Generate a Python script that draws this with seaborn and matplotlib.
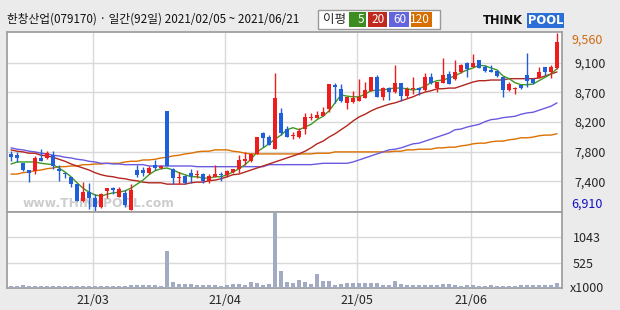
import numpy as np
import pandas as pd
import matplotlib
matplotlib.use("Agg")
import matplotlib.pyplot as plt
import seaborn as sns
from matplotlib.patches import Rectangle

title = "한창산업(079170) · 일간(92일) 2021/02/05 ~ 2021/06/21"

opens = [7760, 7740, 7620, 7520, 7510, 7700, 7700, 7740, 7530, 7470,
         7420, 7310, 7060, 7190, 7100, 6970, 7210, 7250, 7120, 7180,
         6920, 7520, 7520, 7480, 7600, 7550, 8400, 7540, 7400, 7430,
         7480, 7450, 7460, 7360, 7420, 7460, 7450, 7490, 7540, 7660,
         7650, 7760, 8070, 8010, 7830, 8370, 8130, 8020, 8010, 8130,
         8290, 8300, 8330, 8430, 8790, 8730, 8520, 8530, 8550, 8590,
         8700, 8900, 8610, 8740, 8680, 8820, 8620, 8730, 8740, 8710,
         8900, 8740, 8820, 8950, 8880, 8980, 9110, 9050, 9160, 9050,
         9010, 8990, 8900, 8710, 8720, 8790, 8930, 8880, 8890, 9050,
         8980, 9040]
closes = [7710, 7700, 7520, 7480, 7700, 7660, 7770, 7580, 7510, 7460,
          7310, 7060, 7190, 7100, 6970, 7160, 7250, 7220, 7240, 7000,
          7220, 7450, 7480, 7550, 7550, 7580, 7580, 7400, 7420, 7330,
          7430, 7460, 7360, 7430, 7460, 7450, 7510, 7540, 7670, 7670,
          7760, 8010, 8000, 7890, 8590, 8070, 8010, 8030, 8100, 8310,
          8300, 8340, 8380, 8800, 8760, 8550, 8610, 8590, 8610, 8710,
          8900, 8610, 8740, 8680, 8820, 8620, 8730, 8740, 8710, 8900,
          8820, 8830, 8940, 8800, 8980, 9080, 9020, 9110, 9040, 8990,
          8980, 8920, 8710, 8800, 8730, 8740, 8850, 8820, 8980, 8980,
          9050, 9430]
highs = [7800, 7790, 7630, 7520, 7730, 7830, 7800, 7800, 7600, 7470,
         7420, 7310, 7340, 7330, 7160, 7180, 7250, 7270, 7270, 7220,
         7310, 7590, 7560, 7580, 7670, 7600, 8400, 7550, 7490, 7450,
         7530, 7520, 7480, 7460, 7600, 7490, 7520, 7540, 7740, 7790,
         7780, 8010, 8090, 8040, 8960, 8440, 8180, 8090, 8150, 8370,
         8370, 8400, 8460, 8800, 8820, 8800, 8610, 8700, 8880, 8830,
         8900, 8940, 8760, 8760, 9080, 8820, 8760, 8900, 8760, 8960,
         8960, 8830, 9190, 8990, 9160, 9100, 9130, 9250, 9160, 9080,
         9080, 9010, 8900, 8830, 8760, 8790, 9260, 8890, 9050, 9050,
         9080, 9560]
lows = [7660, 7640, 7500, 7340, 7460, 7650, 7690, 7540, 7360, 7400,
        7270, 7060, 7040, 6940, 6910, 6960, 7100, 7160, 7120, 6970,
        6920, 7420, 7430, 7460, 7520, 7530, 7580, 7310, 7310, 7310,
        7330, 7400, 7330, 7330, 7410, 7360, 7420, 7480, 7480, 7600,
        7640, 7760, 7860, 7890, 7830, 8040, 8010, 7980, 8000, 8060,
        8270, 8300, 8330, 8380, 8520, 8530, 8430, 8520, 8550, 8590,
        8700, 8610, 8560, 8560, 8670, 8550, 8590, 8650, 8640, 8700,
        8800, 8680, 8820, 8800, 8860, 8970, 8910, 9050, 9040, 8980,
        8980, 8900, 8610, 8700, 8650, 8730, 8760, 8800, 8890, 8940,
        8890, 9020]
volumes = [35, 40, 55, 40, 40, 40, 40, 40, 40, 40,
           40, 50, 50, 50, 50, 40, 40, 40, 40, 40,
           55, 70, 55, 55, 55, 45, 763, 120, 84, 84,
           84, 70, 70, 70, 55, 45, 60, 84, 84, 70,
           133, 100, 70, 84, 1540, 343, 133, 105, 175, 119,
           91, 280, 154, 154, 70, 84, 100, 100, 100, 100,
           100, 100, 60, 60, 154, 84, 60, 60, 60, 70,
           60, 60, 84, 84, 60, 45, 60, 70, 45, 45,
           70, 45, 45, 45, 45, 70, 60, 60, 60, 60,
           60, 112]
ma5 = [7610, 7640, 7640, 7640, 7640, 7620, 7610, 7600, 7550, 7490,
       7420, 7330, 7250, 7190, 7150, 7130, 7160, 7180, 7190, 7210,
       7250, 7310, 7370, 7450, 7510, 7540, 7550, 7520, 7480, 7450,
       7420, 7420, 7400, 7400, 7420, 7420, 7450, 7490, 7540, 7600,
       7680, 7790, 7850, 7910, 7980, 8040, 8120, 8150, 8120, 8160,
       8200, 8270, 8320, 8400, 8520, 8640, 8620, 8610, 8610, 8650,
       8700, 8710, 8710, 8730, 8740, 8740, 8730, 8710, 8730, 8770,
       8820, 8850, 8860, 8890, 8920, 8970, 9010, 9040, 9080, 9070,
       9040, 9010, 8920, 8880, 8820, 8790, 8790, 8800, 8850, 8900,
       8950, 9030]
ma20 = [7820, 7800, 7790, 7770, 7770, 7740, 7730, 7710, 7680, 7650,
        7610, 7580, 7550, 7520, 7480, 7450, 7430, 7420, 7400, 7390,
        7370, 7360, 7340, 7330, 7330, 7330, 7310, 7310, 7310, 7310,
        7330, 7340, 7340, 7360, 7370, 7390, 7420, 7450, 7460, 7490,
        7520, 7550, 7580, 7610, 7640, 7670, 7700, 7730, 7760, 7800,
        7850, 7910, 7950, 8010, 8060, 8120, 8180, 8250, 8310, 8350,
        8400, 8440, 8470, 8500, 8520, 8550, 8580, 8610, 8650, 8680,
        8700, 8730, 8730, 8740, 8740, 8770, 8800, 8830, 8850, 8850,
        8860, 8860, 8860, 8880, 8880, 8880, 8880, 8880, 8890, 8920,
        8950, 8980]
ma60 = [7850, 7830, 7820, 7800, 7790, 7770, 7760, 7740, 7730, 7710,
        7700, 7680, 7670, 7650, 7640, 7620, 7620, 7610, 7610, 7600,
        7600, 7600, 7600, 7580, 7580, 7580, 7580, 7580, 7580, 7580,
        7580, 7570, 7570, 7570, 7570, 7570, 7570, 7570, 7570, 7570,
        7570, 7570, 7570, 7600, 7600, 7600, 7600, 7600, 7600, 7600,
        7600, 7610, 7620, 7620, 7620, 7620, 7620, 7640, 7670, 7700,
        7730, 7760, 7790, 7820, 7830, 7850, 7880, 7910, 7920, 7950,
        7980, 8010, 8040, 8070, 8120, 8130, 8160, 8180, 8200, 8240,
        8270, 8280, 8300, 8310, 8320, 8350, 8370, 8380, 8410, 8440,
        8470, 8520]
ma120 = [7460, 7460, 7480, 7490, 7510, 7520, 7540, 7550, 7570, 7570,
         7580, 7580, 7600, 7600, 7610, 7610, 7620, 7620, 7620, 7640,
         7650, 7650, 7670, 7670, 7680, 7700, 7710, 7730, 7740, 7760,
         7770, 7790, 7800, 7800, 7820, 7820, 7820, 7800, 7790, 7770,
         7760, 7760, 7760, 7760, 7760, 7760, 7760, 7760, 7760, 7760,
         7760, 7770, 7770, 7770, 7790, 7790, 7790, 7790, 7790, 7790,
         7790, 7790, 7790, 7790, 7800, 7800, 7820, 7820, 7830, 7830,
         7830, 7850, 7850, 7860, 7860, 7880, 7890, 7910, 7920, 7920,
         7940, 7950, 7950, 7970, 7980, 8000, 8000, 8010, 8030, 8040,
         8040, 8060]

month_labels = ["21/03", "21/04", "21/05", "21/06"]
month_start_idx = [14, 36, 58, 77]
price_max = 9560
price_min = 6910
price_tick_labels = ["7,400", "7,800", "8,200", "8,700", "9,100"]
vol_tick_vals = [525, 1043]
vol_tick_labels = ["525", "1043"]
vol_top = 1565
legend_labels = ["5", "20", "60", "120"]

RED = "#ee1c1c"
BLUE = "#1f5fdc"
MA_COLORS = ["#3a9a1e", "#b3261e", "#6a5ae0", "#dc7000"]
LEG_COLORS = ["#3c8c22", "#c0281e", "#6464dc", "#d86e00"]
GRID = "#d9d9d9"
SPINE = "#a0a0a0"

sns.set_theme(style="white")
plt.rcParams["font.family"] = ["Noto Sans CJK KR", "DejaVu Sans"]

W, H = 620, 310
fig = plt.figure(figsize=(6.2, 3.1), dpi=100, facecolor="#ebebeb")


def rect(x0, y0, x1, y1):
    return [x0 / W, 1 - y1 / H, (x1 - x0) / W, (y1 - y0) / H]


ax = fig.add_axes(rect(7, 32, 562, 212))
axv = fig.add_axes(rect(7, 212, 562, 288), sharex=ax)

df = pd.DataFrame({"i": np.arange(len(opens)), "open": opens, "high": highs,
                   "low": lows, "close": closes, "vol": volumes,
                   "ma5": ma5, "ma20": ma20, "ma60": ma60, "ma120": ma120})

ppx = (price_max - price_min) / 178.0
ax.set_ylim(price_min - ppx, price_max + ppx)
ax.set_xlim(-0.67, 91.83)

# grid
for n in range(1, 6):
    ax.axhline(price_min + (price_max - price_min) * n / 6, color=GRID, lw=1, zorder=0)
for m in month_start_idx:
    ax.axvline(m - 0.4, color=GRID, lw=1, zorder=0)
    axv.axvline(m - 0.4, color=GRID, lw=1, zorder=0)

# watermark (behind the marks)
ax.text(0.028, 0.045, "www.THINKPOOL.com", transform=ax.transAxes, fontsize=8.8,
        color="#cdcdcd", fontweight="bold", family="DejaVu Sans", va="center",
        ha="left", zorder=1)

# moving averages
for col, c in zip(["ma120", "ma60", "ma20", "ma5"], MA_COLORS[::-1]):
    sns.lineplot(data=df, x="i", y=col, ax=ax, color=c, lw=1.0, zorder=2)

# candles
up = df["close"] >= df["open"]
colors = np.where(up, RED, BLUE)
ax.vlines(df["i"], df["low"], df["high"], colors=colors, lw=1, zorder=3)
body_h = np.maximum((df["close"] - df["open"]).abs(), ppx * 1.2)
body_b = np.minimum(df["open"], df["close"])
ax.bar(df["i"], body_h, bottom=body_b, width=0.72, color=colors, lw=0, zorder=4)

# price axis labels
ax.yaxis.tick_right()
ax.set_yticks([price_min + (price_max - price_min) * n / 6 for n in range(1, 6)])
ax.set_yticklabels(price_tick_labels)
ax.tick_params(axis="y", length=0, pad=9, labelsize=9)
ax.tick_params(axis="x", length=0, labelbottom=False)
ax.annotate(f"{price_max:,}", xy=(1, 1), xycoords="axes fraction", xytext=(9, -2),
            textcoords="offset pixels", ha="left", va="top", fontsize=9, color="#d06a10")
ax.annotate(f"{price_min:,}", xy=(1, 0), xycoords="axes fraction", xytext=(9, 1),
            textcoords="offset pixels", ha="left", va="bottom", fontsize=9, color="#1010c8")
ax.set_xlabel("")
ax.set_ylabel("")

# volume
axv.set_ylim(0, vol_top)
for v in vol_tick_vals:
    axv.axhline(v, color=GRID, lw=1, zorder=0)
axv.bar(df["i"], df["vol"], width=0.78, color="#a3abc3", lw=0, zorder=3)
axv.yaxis.tick_right()
axv.set_yticks(vol_tick_vals)
axv.set_yticklabels(vol_tick_labels)
axv.tick_params(axis="y", length=0, pad=8, labelsize=9)
axv.annotate("x1000", xy=(1, 0), xycoords="axes fraction", xytext=(8, 0),
             textcoords="offset pixels", ha="left", va="center", fontsize=9)
axv.set_xticks([m - 0.4 for m in month_start_idx])
axv.set_xticklabels(month_labels)
axv.tick_params(axis="x", length=0, pad=4, labelsize=9)
axv.set_xlabel("")
axv.set_ylabel("")

for a in (ax, axv):
    a.set_facecolor("white")
    for s in a.spines.values():
        s.set_color(SPINE)
        s.set_linewidth(1.3)

# title
fig.text(7 / W, 1 - 19 / H, title, fontsize=8.4, va="center", ha="left", color="#111111")

# legend box
fig.patches.append(Rectangle((318 / W, 1 - 29 / H), 122 / W, 19 / H, transform=fig.transFigure,
                             facecolor="white", edgecolor="#999999", lw=1))
fig.text(323 / W, 1 - 19 / H, "이평", fontsize=9, va="center", ha="left")
boxes = [(349, 366), (368, 387), (389, 409), (411, 432)]
for (x0, x1), lab, c in zip(boxes, legend_labels, LEG_COLORS):
    fig.patches.append(Rectangle((x0 / W, 1 - 27 / H), (x1 - x0) / W, 15 / H,
                                 transform=fig.transFigure, facecolor=c, edgecolor="none"))
    fig.text((x1 - 2) / W, 1 - 19.5 / H, lab, fontsize=8.5, va="center", ha="right", color="white")

# logo
fig.text(483 / W, 1 - 21 / H, "THINK", fontsize=8.3, fontweight="bold", family="DejaVu Sans",
         va="center", ha="left", color="#111111")
fig.patches.append(Rectangle((527 / W, 1 - 28 / H), 37 / W, 15 / H, transform=fig.transFigure,
                             facecolor="#2b6fd6", edgecolor="none"))
fig.text(545.5 / W, 1 - 21 / H, "POOL", fontsize=8.3, fontweight="bold", family="DejaVu Sans",
         va="center", ha="center", color="white")

fig.savefig("out.png", dpi=100, facecolor=fig.get_facecolor())
